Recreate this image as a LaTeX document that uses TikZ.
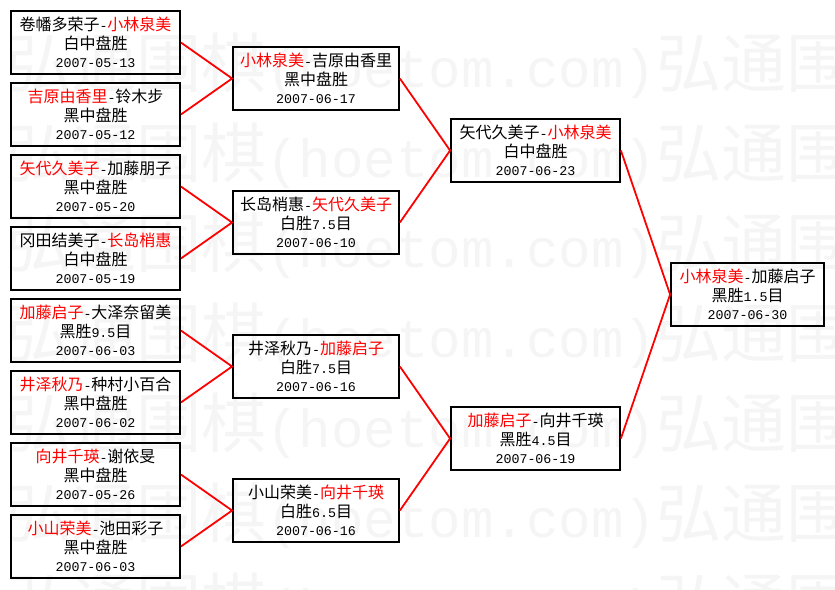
\documentclass[tikz,border=0pt]{standalone}
\usepackage{fontspec}
\setmainfont{Noto Sans CJK SC}
\setmonofont[Scale=0.833]{Liberation Mono}
\newcommand{\sieg}[1]{\textcolor{red}{#1}}
\begin{document}
\begin{tikzpicture}[x=1pt,y=-1pt,
  spiel/.style={draw=black,line width=1.8pt,align=center,inner sep=0pt,
    minimum height=63pt,font=\fontsize{16}{18.5}\selectfont},
  runde1/.style={spiel,minimum width=169pt},
  runde2/.style={spiel,minimum width=166pt},
  runde3/.style={spiel,minimum width=169pt},
  finale/.style={spiel,minimum width=153pt},
  linie/.style={red,line width=1.8pt},
  wasser/.style={black!4,anchor=west,inner sep=0pt,font=\fontsize{65}{65}\selectfont}]
\useasboundingbox (0,0) rectangle (835,589);
% Wasserzeichen im Hintergrund
\begin{scope}
\clip (0,0) rectangle (835,589);
\foreach \y in {66,156,246,336,426,516,606}
  \node[wasser] (W\y) at (6,\y) {弘通围棋\texttt{(hoetom.com)}弘通围棋};
\end{scope}
% Erste Runde (links)
\node[runde1] (V1) at (95.5, 42.5) {卷幡多荣子\texttt{-}\sieg{小林泉美}\\白中盘胜\\\texttt{2007-05-13}};
\node[runde1] (V2) at (95.5,114.5) {\sieg{吉原由香里}\texttt{-}铃木步\\黑中盘胜\\\texttt{2007-05-12}};
\node[runde1] (V3) at (95.5,186.5) {\sieg{矢代久美子}\texttt{-}加藤朋子\\黑中盘胜\\\texttt{2007-05-20}};
\node[runde1] (V4) at (95.5,258.5) {冈田结美子\texttt{-}\sieg{长岛梢惠}\\白中盘胜\\\texttt{2007-05-19}};
\node[runde1] (V5) at (95.5,330.5) {\sieg{加藤启子}\texttt{-}大泽奈留美\\黑胜\texttt{9.5}目\\\texttt{2007-06-03}};
\node[runde1] (V6) at (95.5,402.5) {\sieg{井泽秋乃}\texttt{-}种村小百合\\黑中盘胜\\\texttt{2007-06-02}};
\node[runde1] (V7) at (95.5,474.5) {\sieg{向井千瑛}\texttt{-}谢依旻\\黑中盘胜\\\texttt{2007-05-26}};
\node[runde1] (V8) at (95.5,546.5) {\sieg{小山荣美}\texttt{-}池田彩子\\黑中盘胜\\\texttt{2007-06-03}};
% Zweite Runde
\node[runde2] (H1) at (316, 78.5) {\sieg{小林泉美}\texttt{-}吉原由香里\\黑中盘胜\\\texttt{2007-06-17}};
\node[runde2] (H2) at (316,222.5) {长岛梢惠\texttt{-}\sieg{矢代久美子}\\白胜\texttt{7.5}目\\\texttt{2007-06-10}};
\node[runde2] (H3) at (316,366.5) {井泽秋乃\texttt{-}\sieg{加藤启子}\\白胜\texttt{7.5}目\\\texttt{2007-06-16}};
\node[runde2] (H4) at (316,510.5) {小山荣美\texttt{-}\sieg{向井千瑛}\\白胜\texttt{6.5}目\\\texttt{2007-06-16}};
% Halbfinale
\node[runde3] (S1) at (535.5,150.5) {矢代久美子\texttt{-}\sieg{小林泉美}\\白中盘胜\\\texttt{2007-06-23}};
\node[runde3] (S2) at (535.5,438.5) {\sieg{加藤启子}\texttt{-}向井千瑛\\黑胜\texttt{4.5}目\\\texttt{2007-06-19}};
% Finale
\node[finale] (F) at (747.5,294.5) {\sieg{小林泉美}\texttt{-}加藤启子\\黑胜\texttt{1.5}目\\\texttt{2007-06-30}};
% Verbindungslinien (rot)
\foreach \a/\b/\m in {V1/V2/H1,V3/V4/H2,V5/V6/H3,V7/V8/H4,H1/H2/S1,H3/H4/S2,S1/S2/F}
  \draw[linie] (\a.east) -- (\m.west) -- (\b.east);
\end{tikzpicture}
\end{document}
